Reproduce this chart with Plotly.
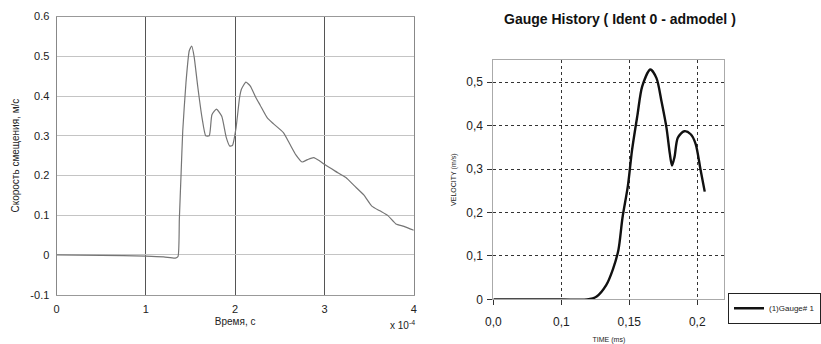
import plotly.graph_objects as go

# Left chart: time (x 1e-4 s) vs displacement velocity (m/s)
left_t = [0.0, 0.5, 1.0, 1.2, 1.33, 1.36, 1.375, 1.395, 1.413, 1.449, 1.486, 1.514, 1.54, 1.58,
          1.63, 1.67, 1.71, 1.74, 1.79, 1.85, 1.90, 1.94, 1.97, 2.01, 2.05, 2.07, 2.12, 2.17,
          2.23, 2.28, 2.36, 2.43, 2.54, 2.61, 2.68, 2.75, 2.81, 2.88, 2.95, 3.00, 3.12, 3.24,
          3.33, 3.44, 3.53, 3.62, 3.71, 3.80, 3.89, 4.00]
left_v = [0.0, -0.001, -0.003, -0.005, -0.008, -0.004, 0.09, 0.207, 0.312, 0.433, 0.514, 0.526,
          0.50, 0.426, 0.344, 0.30, 0.30, 0.353, 0.367, 0.349, 0.296, 0.274, 0.276, 0.32, 0.397,
          0.417, 0.435, 0.425, 0.397, 0.377, 0.345, 0.33, 0.308, 0.28, 0.252, 0.234, 0.24, 0.245,
          0.236, 0.228, 0.211, 0.195, 0.175, 0.151, 0.123, 0.111, 0.099, 0.078, 0.072, 0.062]

# Right chart: TIME (ms) vs VELOCITY (m/s)
right_t = [0.05, 0.10, 0.119, 0.126, 0.133, 0.138, 0.142, 0.145, 0.149, 0.152, 0.156, 0.1595,
           0.1655, 0.170, 0.1738, 0.1774, 0.1798, 0.1814, 0.1833, 0.1857, 0.1905, 0.1952,
           0.1988, 0.2024, 0.2055]
right_v = [0.0, 0.0, 0.0, 0.007, 0.033, 0.070, 0.114, 0.188, 0.262, 0.343, 0.424, 0.49,
           0.529, 0.509, 0.454, 0.394, 0.336, 0.308, 0.328, 0.372, 0.387, 0.38, 0.358, 0.299,
           0.248]
right_tickvals = [0.05, 0.10, 0.15, 0.20]
right_ticktext = ["0,0", "0,1", "0,15", "0,2"]
right_ytickvals = [0, 0.1, 0.2, 0.3, 0.4, 0.5]
right_yticktext = ["0", "0,1", "0,2", "0,3", "0,4", "0,5"]

FONT = "Liberation Sans, Arial, sans-serif"

fig = go.Figure()
fig.add_trace(go.Scatter(x=left_t, y=left_v, mode="lines", line=dict(color="#757575", width=1.2,
                                                                       shape="spline", smoothing=0.5),
                         xaxis="x", yaxis="y", showlegend=False))
fig.add_trace(go.Scatter(x=right_t, y=right_v, mode="lines", line=dict(color="#111", width=2.4,
                                                                         shape="spline", smoothing=0.8),
                         xaxis="x2", yaxis="y2", name="(1)Gauge# 1", showlegend=True))

fig.update_layout(
    width=821, height=344, margin=dict(l=0, r=0, t=0, b=0),
    paper_bgcolor="white", plot_bgcolor="white",
    font=dict(family=FONT, color="#222", size=11),
    xaxis=dict(domain=[50/821, 418/821], range=[0, 4], tickvals=[0, 1, 2, 3, 4],
               showgrid=True, gridcolor="#555", gridwidth=1.3, zeroline=False,
               showline=True, linecolor="#999", mirror=True, ticks="inside", ticklen=3,
               tickcolor="#555", anchor="y", tickfont=dict(size=11), ticklabelstandoff=4,
               title=dict(text="Время, с", font=dict(size=10), standoff=4)),
    yaxis=dict(domain=[1-300/344, 1-11/344], range=[-0.1, 0.6],
               tickvals=[-0.1, 0, 0.1, 0.2, 0.3, 0.4, 0.5, 0.6],
               ticktext=["-0.1", "0", "0.1", "0.2", "0.3", "0.4", "0.5", "0.6"],
               showgrid=True, gridcolor="#c4c4c4", gridwidth=1.3, zeroline=False,
               showline=True, linecolor="#888", mirror=True, ticks="", anchor="x",
               tickfont=dict(size=11), ticklabelstandoff=4,
               title=dict(text="Скорость смещения, м/с", font=dict(size=10), standoff=8)),
    yaxis3=dict(domain=[1-300/344, 1-11/344], range=[-0.1, 0.6], overlaying="y", anchor="x",
                tickvals=[0.1, 0.2, 0.3], showticklabels=False, showgrid=True,
                gridcolor="#4a4a4a", gridwidth=1.3, zeroline=False, showline=False),
    xaxis2=dict(domain=[500/821, 738/821], range=[0.05, 0.22], tickvals=right_tickvals,
                ticktext=right_ticktext, showgrid=True, gridcolor="#333", griddash="dot",
                gridwidth=1, zeroline=False, showline=True, linecolor="#aaa", mirror=True,
                ticks="outside", ticklen=5, tickcolor="#333", anchor="y2",
                tickfont=dict(size=12), ticklabelstandoff=6,
                title=dict(text="TIME (ms)", font=dict(size=7), standoff=10)),
    yaxis2=dict(domain=[1-305/344, 1-56/344], range=[0, 0.551], tickvals=right_ytickvals,
                ticktext=right_yticktext, showgrid=True, gridcolor="#333", griddash="dot",
                gridwidth=1, zeroline=False, showline=True, linecolor="#aaa", mirror=True,
                ticks="outside", ticklen=5, tickcolor="#333", anchor="x2",
                tickfont=dict(size=12), ticklabelstandoff=2,
                title=dict(text="VELOCITY (m/s)", font=dict(size=7), standoff=8)),
    legend=dict(x=742/821, y=1-298/344, xanchor="left", yanchor="top",
                bordercolor="#222", borderwidth=1, bgcolor="white",
                font=dict(size=8), itemwidth=30, tracegroupgap=0),
    annotations=[
        dict(text="Gauge History ( Ident 0 - admodel )", x=630/821, y=1-13/344,
             xref="paper", yref="paper", showarrow=False, xanchor="center", yanchor="middle",
             font=dict(size=14, family=FONT, color="#111", weight="bold")),
        dict(text="x 10<sup>-4</sup>", x=421/821, y=1-332/344, xref="paper", yref="paper",
             showarrow=False, xanchor="right", yanchor="middle", font=dict(size=10)),
    ],
)

fig.write_html("out.html")
